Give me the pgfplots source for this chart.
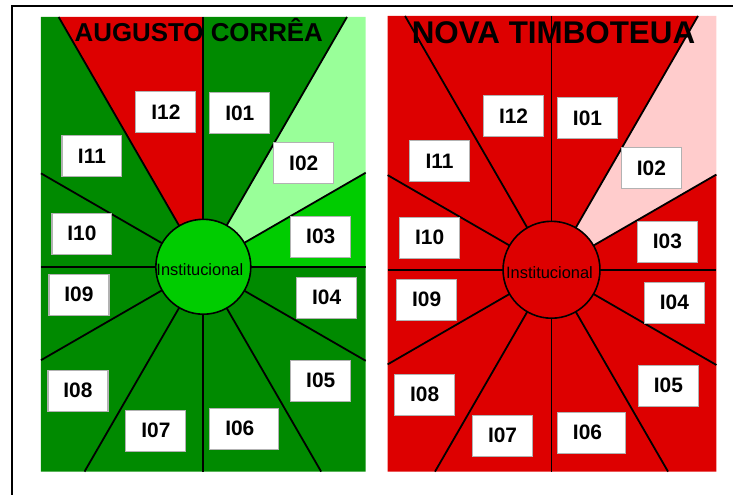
\documentclass[border=0pt]{standalone}
\usepackage{pgfplots}
\pgfplotsset{compat=1.18}
\usepackage{fontspec}
\setmainfont{Liberation Sans}
\definecolor{dg}{RGB}{0,138,0}
\definecolor{bg}{RGB}{0,204,0}
\definecolor{lg}{RGB}{153,255,153}
\definecolor{rd}{RGB}{221,0,0}
\definecolor{pk}{RGB}{255,204,204}
\definecolor{boxgray}{RGB}{178,178,178}
\tikzset{
  lbl/.style={draw=boxgray, line width=1.2pt, fill=white, minimum width=60bp, minimum height=41bp, inner sep=0pt, font=\fontsize{21}{24}\selectfont\bfseries},
}
\pgfplotsset{ray/.style={black, line width=1.8pt, no marks}}
\begin{document}
\begin{tikzpicture}
\begin{axis}[
  width=734bp, height=495bp, scale only axis,
  xmin=0, xmax=734, ymin=0, ymax=495, y dir=reverse,
  hide axis, clip=false, set layers,
]
\path (axis cs:0,0) rectangle (axis cs:734,495);
% ---- left panel wedges (AUGUSTO CORREA)
\addplot[fill=dg, draw=none] coordinates {(203,267)(203,17)(347.3,17)} --cycle;
\addplot[fill=lg, draw=none] coordinates {(203,267)(347.3,17)(366,17)(366,172.9)} --cycle;
\addplot[fill=bg, draw=none] coordinates {(203,267)(366,172.9)(366,267)} --cycle;
\addplot[fill=dg, draw=none] coordinates {(203,267)(366,267)(366,361.1)} --cycle;
\addplot[fill=dg, draw=none] coordinates {(203,267)(366,361.1)(366,472)(321.4,472)} --cycle;
\addplot[fill=dg, draw=none] coordinates {(203,267)(321.4,472)(203,472)} --cycle;
\addplot[fill=dg, draw=none] coordinates {(203,267)(203,472)(84.6,472)} --cycle;
\addplot[fill=dg, draw=none] coordinates {(203,267)(84.6,472)(41,472)(41,360.5)} --cycle;
\addplot[fill=dg, draw=none] coordinates {(203,267)(41,360.5)(41,267)} --cycle;
\addplot[fill=dg, draw=none] coordinates {(203,267)(41,267)(41,173.5)} --cycle;
\addplot[fill=dg, draw=none] coordinates {(203,267)(41,173.5)(41,17)(58.7,17)} --cycle;
\addplot[fill=rd, draw=none] coordinates {(203,267)(58.7,17)(203,17)} --cycle;
% ---- right panel wedges (NOVA TIMBOTEUA)
\addplot[fill=rd, draw=none] coordinates {(552,270)(552,16)(698.6,16)} --cycle;
\addplot[fill=pk, draw=none] coordinates {(552,270)(698.6,16)(717,16)(717,174.7)} --cycle;
\addplot[fill=rd, draw=none] coordinates {(552,270)(717,174.7)(717,270)} --cycle;
\addplot[fill=rd, draw=none] coordinates {(552,270)(717,270)(717,365.3)} --cycle;
\addplot[fill=rd, draw=none] coordinates {(552,270)(717,365.3)(717,472)(668.6,472)} --cycle;
\addplot[fill=rd, draw=none] coordinates {(552,270)(668.6,472)(552,472)} --cycle;
\addplot[fill=rd, draw=none] coordinates {(552,270)(552,472)(435.4,472)} --cycle;
\addplot[fill=rd, draw=none] coordinates {(552,270)(435.4,472)(388,472)(388,364.7)} --cycle;
\addplot[fill=rd, draw=none] coordinates {(552,270)(388,364.7)(388,270)} --cycle;
\addplot[fill=rd, draw=none] coordinates {(552,270)(388,270)(388,175.3)} --cycle;
\addplot[fill=rd, draw=none] coordinates {(552,270)(388,175.3)(388,16)(405.4,16)} --cycle;
\addplot[fill=rd, draw=none] coordinates {(552,270)(405.4,16)(552,16)} --cycle;
% ---- rays left
\addplot[ray] coordinates {(203,267)(203,17)};
\addplot[ray] coordinates {(203,267)(347.3,17)};
\addplot[ray] coordinates {(203,267)(366,172.9)};
\addplot[ray] coordinates {(203,267)(366,267)};
\addplot[ray] coordinates {(203,267)(366,361.1)};
\addplot[ray] coordinates {(203,267)(321.4,472)};
\addplot[ray] coordinates {(203,267)(203,472)};
\addplot[ray] coordinates {(203,267)(84.6,472)};
\addplot[ray] coordinates {(203,267)(41,360.5)};
\addplot[ray] coordinates {(203,267)(41,267)};
\addplot[ray] coordinates {(203,267)(41,173.5)};
\addplot[ray] coordinates {(203,267)(58.7,17)};
% ---- rays right
\addplot[ray] coordinates {(552,270)(552,16)};
\addplot[ray] coordinates {(552,270)(698.6,16)};
\addplot[ray] coordinates {(552,270)(717,174.7)};
\addplot[ray] coordinates {(552,270)(717,270)};
\addplot[ray] coordinates {(552,270)(717,365.3)};
\addplot[ray] coordinates {(552,270)(668.6,472)};
\addplot[ray] coordinates {(552,270)(552,472)};
\addplot[ray] coordinates {(552,270)(435.4,472)};
\addplot[ray] coordinates {(552,270)(388,364.7)};
\addplot[ray] coordinates {(552,270)(388,270)};
\addplot[ray] coordinates {(552,270)(388,175.3)};
\addplot[ray] coordinates {(552,270)(405.4,16)};
% ---- centre circles
\addplot[only marks, mark=*, mark size=47.5bp, mark options={fill=bg, draw=black, line width=1.6pt}] coordinates {(203.5,267)};
\addplot[only marks, mark=*, mark size=48.5bp, mark options={fill=rd, draw=black, line width=1.6pt}] coordinates {(552,270)};
% ---- frame
\addplot[black, line width=1.3pt, no marks] coordinates {(12,495)(12,6)(734,6)};
\begin{pgfonlayer}{axis foreground}
\node[anchor=base, font=\fontsize{16.5}{18}\selectfont] at (axis cs:200,276) {Institucional};
\node[anchor=base, font=\fontsize{16.5}{18}\selectfont] at (axis cs:550,279) {Institucional};
% ---- labels left
\node[lbl] at (axis cs:166,112) {I12};
\node[lbl] at (axis cs:240,113) {I01};
\node[lbl] at (axis cs:92,156) {I11};
\node[lbl] at (axis cs:304,163) {I02};
\node[lbl] at (axis cs:82,234) {I10};
\node[lbl] at (axis cs:321,237) {I03};
\node[lbl] at (axis cs:79,295) {I09};
\node[lbl] at (axis cs:327,298) {I04};
\node[lbl] at (axis cs:78,391) {I08};
\node[lbl] at (axis cs:321,381) {I05};
\node[lbl] at (axis cs:156,431) {I07};
\node[lbl, minimum width=69bp] at (axis cs:244.5,429) {};
\node[lbl, draw=none, fill=none] at (axis cs:240,429) {I06};
% ---- labels right
\node[lbl] at (axis cs:514,116) {I12};
\node[lbl] at (axis cs:588,118) {I01};
\node[lbl] at (axis cs:440,161) {I11};
\node[lbl] at (axis cs:652,168) {I02};
\node[lbl] at (axis cs:430,238) {I10};
\node[lbl] at (axis cs:668,242) {I03};
\node[lbl] at (axis cs:427,300) {I09};
\node[lbl] at (axis cs:675,303) {I04};
\node[lbl] at (axis cs:425,395) {I08};
\node[lbl] at (axis cs:669,386) {I05};
\node[lbl] at (axis cs:503,436) {I07};
\node[lbl, minimum width=68bp] at (axis cs:592,433) {};
\node[lbl, draw=none, fill=none] at (axis cs:588,433) {I06};
% ---- titles
\node[anchor=base, font=\fontsize{26}{28}\selectfont\bfseries] at (axis cs:199,42) {AUGUSTO CORRÊA};
\node[anchor=base, font=\fontsize{31.5}{34}\selectfont\bfseries] at (axis cs:554,44) {NOVA TIMBOTEUA};
\end{pgfonlayer}
\end{axis}
\end{tikzpicture}
\end{document}
